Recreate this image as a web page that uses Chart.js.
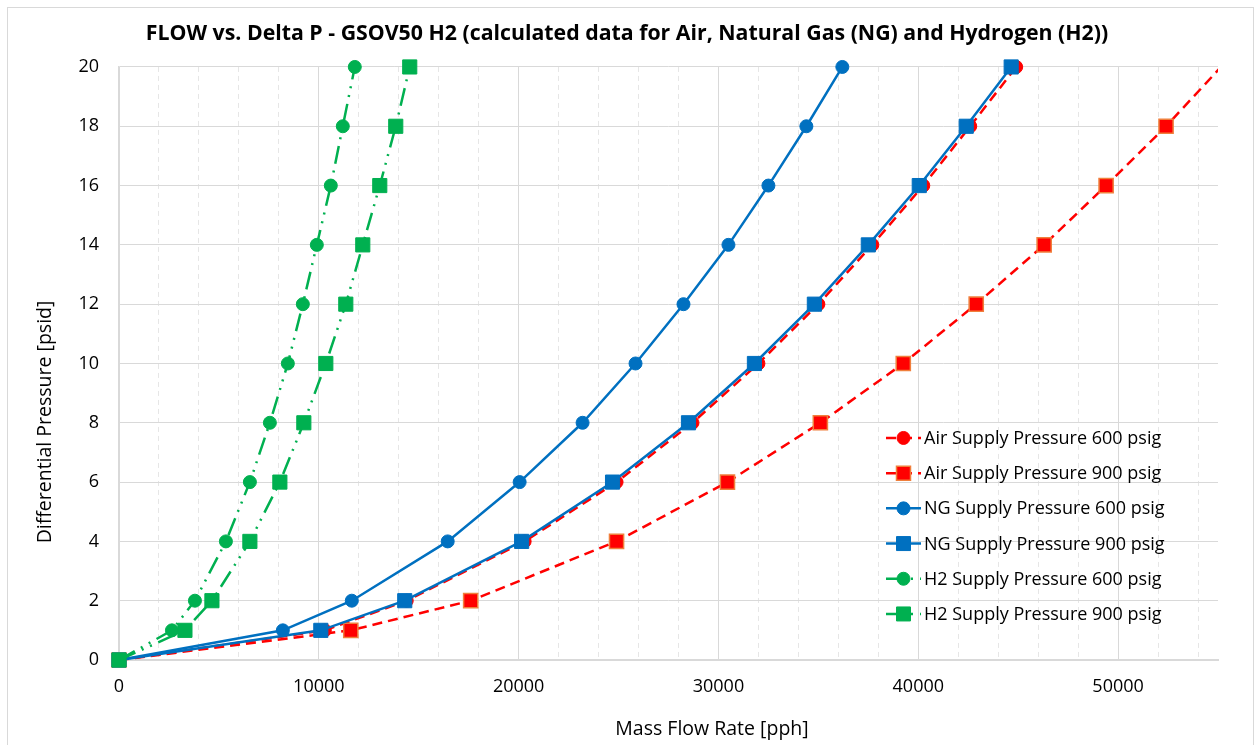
<!DOCTYPE html>
<html>
<head>
<meta charset="utf-8">
<title>FLOW vs. Delta P - GSOV50 H2</title>
<script src="https://cdn.jsdelivr.net/npm/chart.js@4.4.0/dist/chart.umd.min.js"></script>
<style>
    html, body { margin: 0; padding: 0; background: #fff; }
    #wrap { position: relative; width: 1254px; height: 745px; overflow: hidden; }
    #frame { position: absolute; left: 7px; top: 7px; width: 1247px; height: 760px;
             border: 1px solid #d9d9d9; box-sizing: border-box; pointer-events: none; }
</style>
</head>
<body>
<div id="wrap">
    <canvas id="flow-chart" width="1254" height="745"></canvas>
    <div id="frame"></div>
</div>
<script>
// differential pressure steps [psid], shared by every series
const pressure = [0, 1, 2, 4, 6, 8, 10, 12, 14, 16, 18, 20];

// mass flow rate [pph]
const air600 = [0, 10300, 14400, 20300, 24900, 28700, 32000, 35000, 37700, 40250, 42600, 44900];
const air900 = [0, 11600, 17600, 24900, 30450, 35100, 39250, 42900, 46300, 49400, 52400, 55150];
const ng600  = [0, 8200, 11650, 16450, 20050, 23200, 25850, 28250, 30500, 32500, 34400, 36200];
const ng900  = [0, 10100, 14300, 20150, 24700, 28500, 31800, 34800, 37500, 40050, 42400, 44650];
const h2600  = [0, 2650, 3800, 5350, 6550, 7550, 8450, 9200, 9900, 10600, 11200, 11800];
const h2900  = [0, 3300, 4650, 6550, 8050, 9250, 10350, 11350, 12200, 13050, 13850, 14550];

const xTickLabels = [0, 10000, 20000, 30000, 40000, 50000];
const yTickLabels = [0, 2, 4, 6, 8, 10, 12, 14, 16, 18, 20];
const xMax = 55000;
const xMinorStep = 2000;

const FONT = "'Open Sans', 'Noto Sans', sans-serif";
const RED = '#FF0000', BLUE = '#0070C0', GREEN = '#00B050';
const DASH_AIR = [10, 6];
const DASH_H2 = [18, 7, 2, 7, 2, 7];

function pts(flow) {
    return pressure.map((p, i) => ({ x: flow[i], y: p }));
}

function series(label, flow, color, dash, style, order, extra) {
    const round = style === 'circle';
    return Object.assign({
        label: label,
        data: pts(flow),
        showLine: true,
        tension: 0,
        borderColor: color,
        backgroundColor: color,
        borderWidth: 2.5,
        borderDash: dash,
        pointStyle: style,
        pointRadius: round ? 6.5 : 10,
        pointBorderWidth: 1,
        pointBackgroundColor: color,
        pointBorderColor: color,
        clip: { left: 12, top: 12, right: 12, bottom: 12 },
        order: order
    }, extra || {});
}//series

const datasets = [
    series('Air Supply Pressure 600 psig', air600, RED, DASH_AIR, 'circle', 6),
    series('Air Supply Pressure 900 psig', air900, RED, DASH_AIR, 'rect', 5, {
        pointBorderColor: '#F07F3C',
        pointBorderWidth: 1.5,
        pointRadius: ctx => (ctx.raw && ctx.raw.x > xMax) ? 0 : 10,
        clip: { left: 12, top: 12, right: 0, bottom: 12 }
    }),
    series('NG Supply Pressure 600 psig', ng600, BLUE, [], 'circle', 4),
    series('NG Supply Pressure 900 psig', ng900, BLUE, [], 'rect', 3),
    series('H2 Supply Pressure 600 psig', h2600, GREEN, DASH_H2, 'circle', 2),
    series('H2 Supply Pressure 900 psig', h2900, GREEN, DASH_H2, 'rect', 1)
];//datasets

// legend sits inside the plot, lower right, like the Excel original
const insideLegend = {
    id: 'insideLegend',
    afterDraw(chart) {
        const ctx = chart.ctx;
        const area = chart.chartArea;
        const x0 = area.right - 332;
        let y = area.top + 371;
        chart.data.datasets.forEach(ds => {
            ctx.save();
            ctx.strokeStyle = ds.borderColor;
            ctx.lineWidth = ds.borderWidth;
            ctx.setLineDash(ds.borderDash || []);
            ctx.beginPath();
            ctx.moveTo(x0, y);
            ctx.lineTo(x0 + 35, y);
            ctx.stroke();
            ctx.setLineDash([]);

            const mx = x0 + 17.5;
            ctx.fillStyle = ds.pointBackgroundColor;
            ctx.strokeStyle = typeof ds.pointBorderColor === 'string' ? ds.pointBorderColor : ds.borderColor;
            ctx.lineWidth = ds.pointBorderWidth;
            ctx.beginPath();
            if (ds.pointStyle === 'circle') {
                ctx.arc(mx, y, 6.5, 0, Math.PI * 2);
            } else {
                ctx.rect(mx - 7, y - 7, 14, 14);
            }
            ctx.fill();
            ctx.stroke();

            ctx.fillStyle = '#000';
            ctx.font = '18px ' + FONT;
            ctx.textAlign = 'left';
            ctx.textBaseline = 'middle';
            ctx.fillText(ds.label, x0 + 38, y + 1);
            ctx.restore();
            y += 35.2;
        });
    }
};//insideLegend

// axis titles: Excel puts them off-centre, so they are placed by hand
const axisTitles = {
    id: 'axisTitles',
    afterDraw(chart) {
        const ctx = chart.ctx;
        ctx.save();
        ctx.fillStyle = '#000';
        ctx.font = '19.5px ' + FONT;
        ctx.textAlign = 'center';
        ctx.textBaseline = 'middle';
        ctx.fillText('Mass Flow Rate [pph]', 712, 729);
        ctx.translate(45, 422);
        ctx.rotate(-Math.PI / 2);
        ctx.fillText('Differential Pressure [psid]', 0, 0);
        ctx.restore();
    }
};//axisTitles

Chart.defaults.font.family = FONT;
Chart.defaults.color = '#000';

const config = {
    type: 'scatter',
    data: { datasets: datasets },
    options: {
        responsive: false,
        animation: false,
        devicePixelRatio: 1,
        events: [],
        layout: { padding: { left: 36, right: 36, top: 0, bottom: 0 } },
        plugins: {
            legend: { display: false },
            tooltip: { enabled: false },
            title: {
                display: true,
                text: 'FLOW vs. Delta P - GSOV50 H2 (calculated data for Air, Natural Gas (NG) and Hydrogen (H2))',
                color: '#000',
                font: { size: 21.3, weight: 'bold', family: FONT },
                padding: { top: 21.5, bottom: 19.9 }
            }
        },
        scales: {
            x: {
                type: 'linear',
                position: 'bottom',
                min: 0,
                max: xMax,
                afterFit: s => { s.height = 85; },
                afterBuildTicks: s => { s.ticks = xTickLabels.map(v => ({ value: v })); },
                ticks: {
                    padding: 16,
                    font: { size: 18 },
                    color: '#000',
                    maxRotation: 0,
                    autoSkip: false,
                    callback: v => String(v)
                },
                grid: { color: '#d9d9d9', lineWidth: 1, drawTicks: false },
                border: { display: true, color: '#d9d9d9', width: 2 }
            },
            xMinor: {
                type: 'linear',
                position: 'bottom',
                min: 0,
                max: xMax,
                afterBuildTicks: s => {
                    const t = [];
                    for (let v = xMinorStep; v < xMax; v += xMinorStep) {
                        if (v % 10000 !== 0) t.push({ value: v });
                    }
                    s.ticks = t;
                },
                ticks: { display: false },
                grid: { color: '#e6e6e6', lineWidth: 1, drawTicks: false },
                border: { display: false, dash: [5, 4] }
            },
            y: {
                type: 'linear',
                min: 0,
                max: 20,
                afterFit: s => { s.width = 83; },
                afterBuildTicks: s => { s.ticks = yTickLabels.map(v => ({ value: v })); },
                ticks: {
                    padding: 20,
                    font: { size: 18 },
                    color: '#000',
                    callback: v => String(v)
                },
                grid: { color: '#d9d9d9', lineWidth: 1, drawTicks: false },
                border: { display: true, color: '#d9d9d9', width: 1.5 }
            }
        }
    },
    plugins: [insideLegend, axisTitles]
};//config

const flowChart = new Chart(document.getElementById('flow-chart'), config);
</script>
</body>
</html>
